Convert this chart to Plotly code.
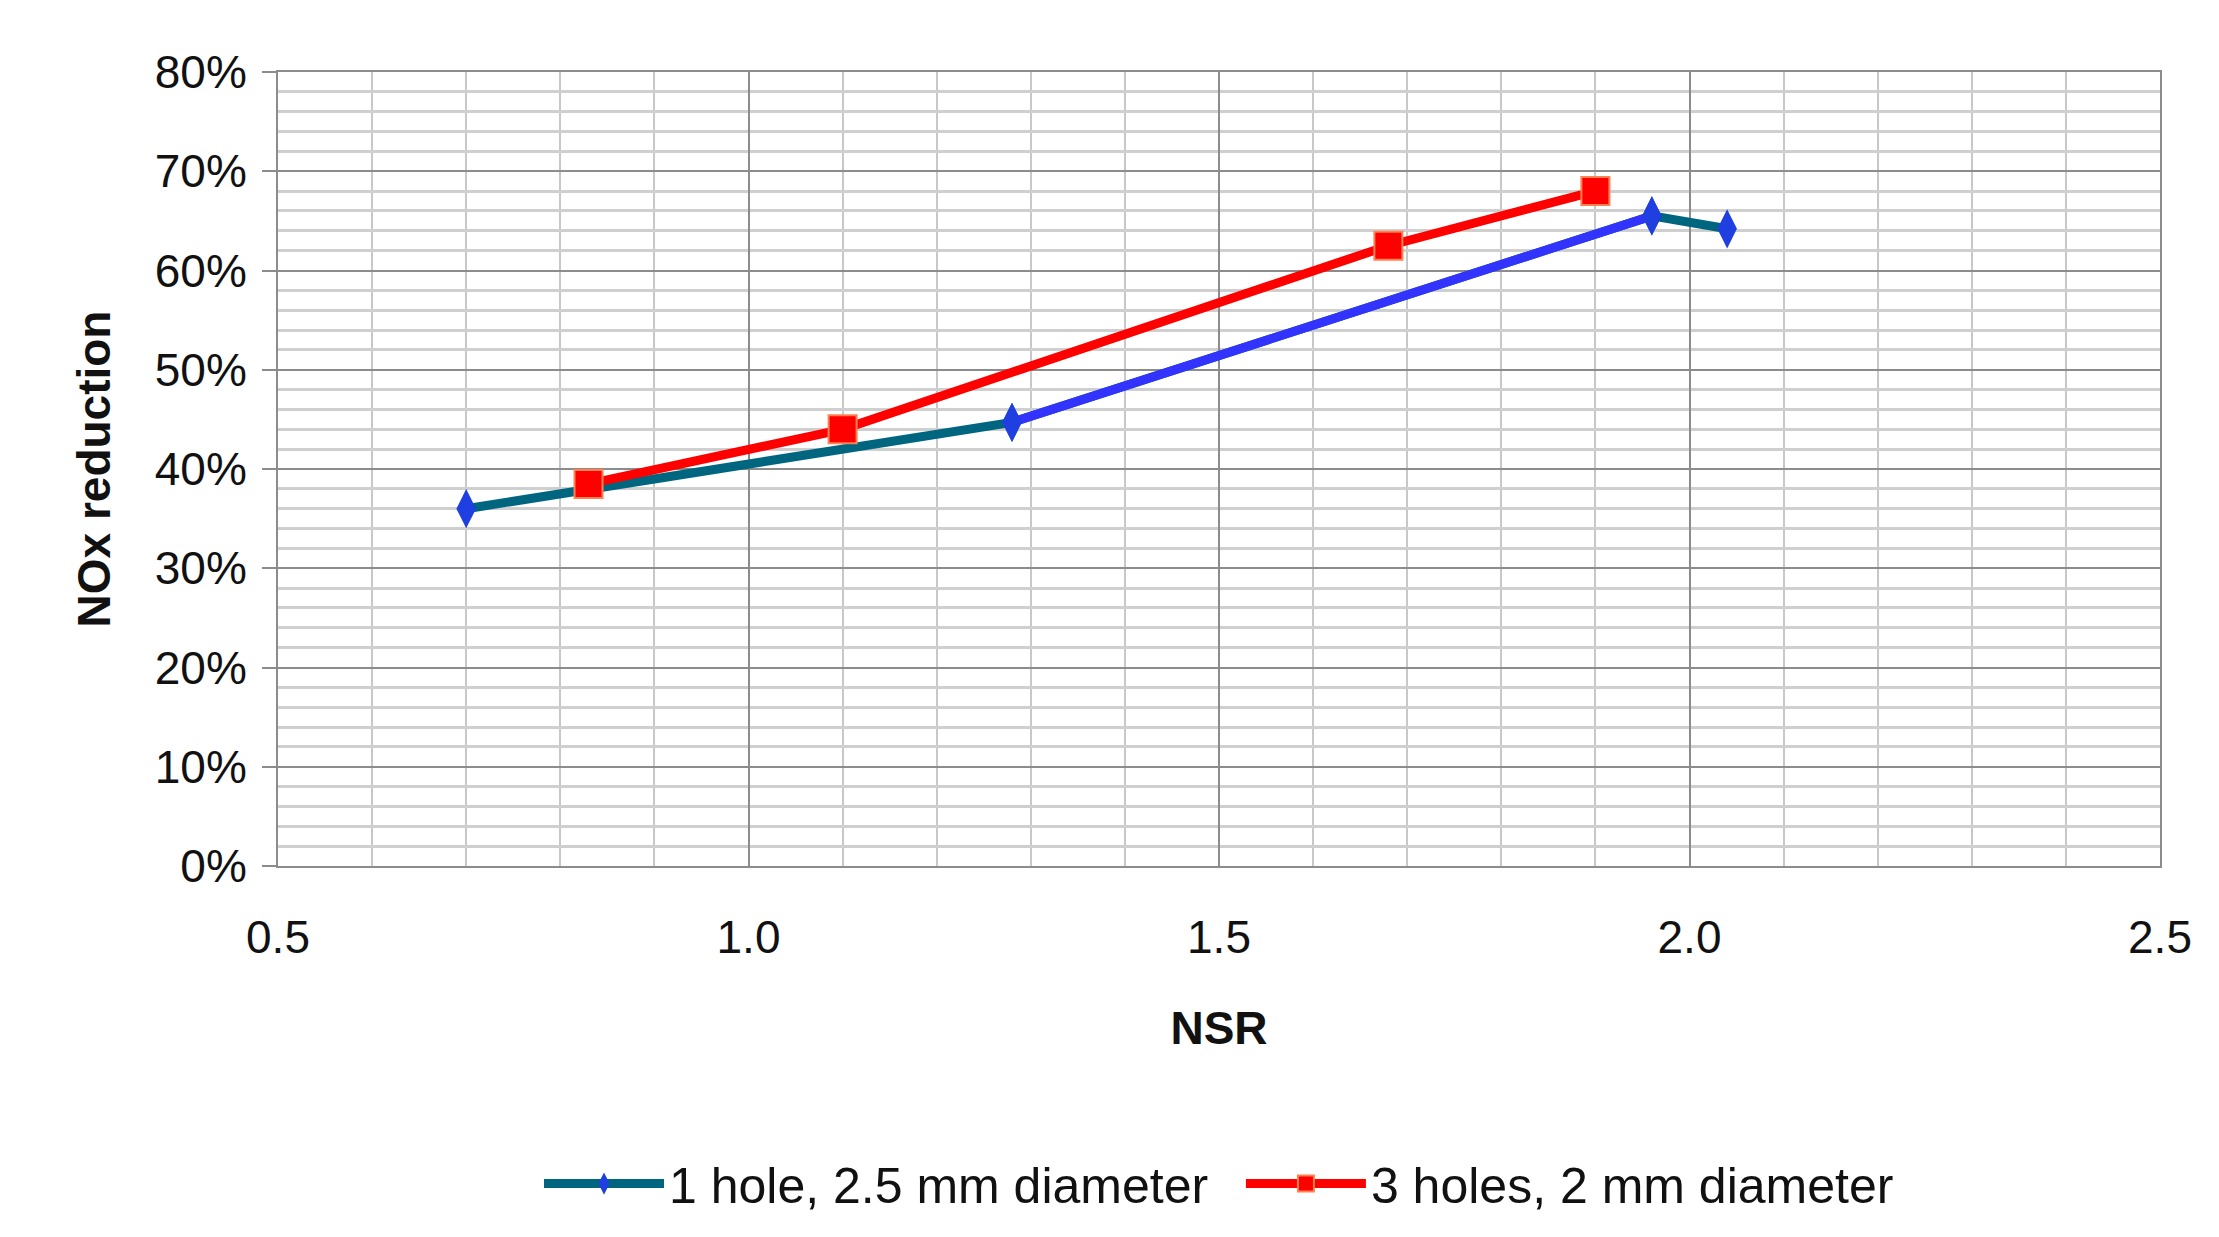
import plotly.graph_objects as go

# NSR vs NOx reduction
nsr_1hole = [0.70, 1.28, 1.96, 2.04]
nox_1hole = [0.360, 0.447, 0.655, 0.642]
nsr_3holes = [0.83, 1.10, 1.68, 1.90]
nox_3holes = [0.385, 0.440, 0.625, 0.680]

FONT = "Liberation Sans, Arial"

fig = go.Figure()
fig.add_trace(go.Scatter(
    x=nsr_1hole, y=nox_1hole, mode="lines+markers", name="1 hole, 2.5 mm diameter  ",
    line=dict(color="#006680", width=9),
    marker=dict(symbol="diamond-tall", size=28, color="#1f3fe0", line=dict(width=0)),
))
# the middle segment of the first series is drawn blue in the original
fig.add_trace(go.Scatter(
    x=nsr_1hole[1:3], y=nox_1hole[1:3], mode="lines", showlegend=False,
    line=dict(color="#3333ff", width=9),
))
fig.add_trace(go.Scatter(
    x=nsr_1hole[1:3], y=nox_1hole[1:3], mode="markers", showlegend=False,
    marker=dict(symbol="diamond-tall", size=28, color="#1f3fe0", line=dict(width=0)),
))
fig.add_trace(go.Scatter(
    x=nsr_3holes, y=nox_3holes, mode="lines+markers", name="3 holes, 2 mm diameter",
    line=dict(color="#ff0000", width=9),
    marker=dict(symbol="square", size=28, color="#ff0000", line=dict(color="#ff8050", width=2)),
))

fig.update_layout(
    width=2219, height=1237,
    paper_bgcolor="white", plot_bgcolor="white",
    margin=dict(l=270, r=67, t=64, b=379),
    font=dict(family=FONT, size=46, color="#111"),
    legend=dict(orientation="h", x=0.5, xanchor="center", y=-0.40, yanchor="middle",
                font=dict(size=50), itemwidth=120),
    xaxis=dict(
        range=[0.5, 2.5], dtick=0.5, tickformat=".1f",
        showgrid=True, gridcolor="#8c8c8c", gridwidth=2,
        minor=dict(dtick=0.1, showgrid=True, gridcolor="#c8c8c8", gridwidth=2),
        linecolor="#8c8c8c", linewidth=2, mirror=True, zeroline=False,
        ticks="", ticklabelstandoff=30,
        title=dict(text="<b>NSR</b>", font=dict(size=46), standoff=50),
    ),
    yaxis=dict(
        range=[0, 0.8], dtick=0.1, tickformat=".0%",
        showgrid=True, gridcolor="#8c8c8c", gridwidth=2,
        minor=dict(dtick=0.02, showgrid=True, gridcolor="#cfcfcf", gridwidth=3),
        linecolor="#8c8c8c", linewidth=2, mirror=True, zeroline=False,
        ticks="outside", ticklen=14, tickcolor="#8c8c8c", tickwidth=2,
        ticklabelstandoff=6,
        title=dict(text="<b>NOx reduction</b>", font=dict(size=46), standoff=30),
    ),
)

fig.write_html("out.html")
